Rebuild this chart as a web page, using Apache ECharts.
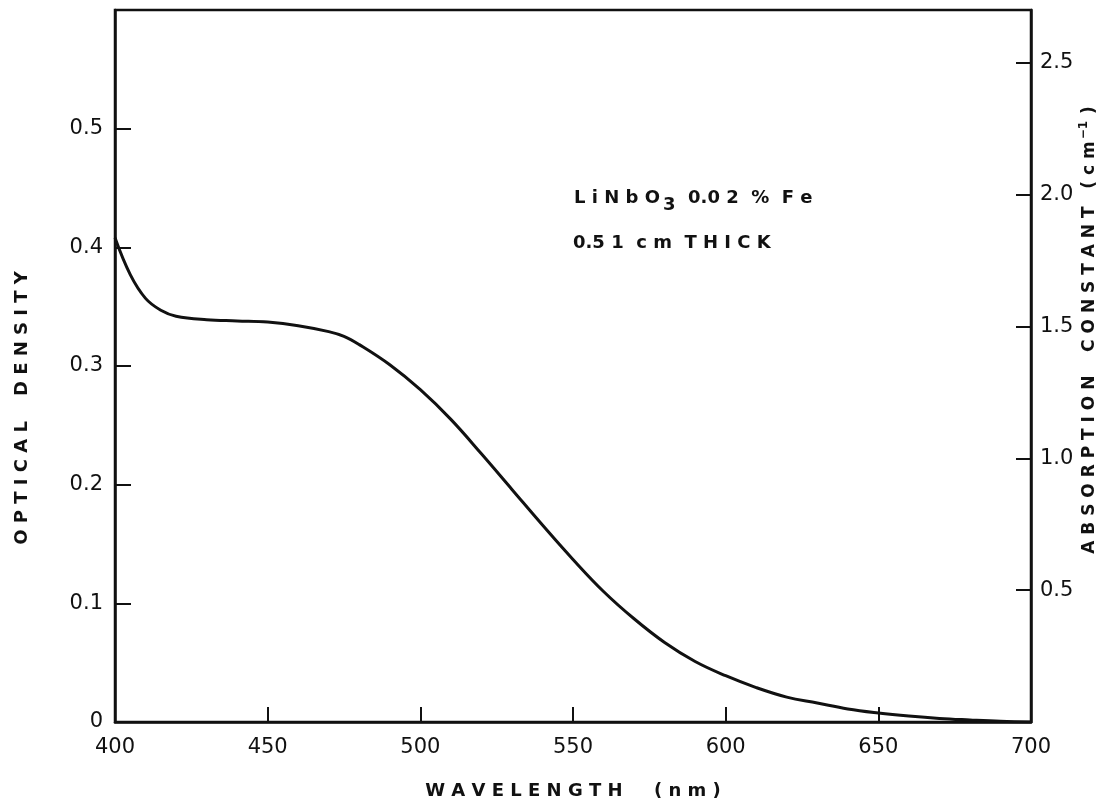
<!DOCTYPE html>
<html>
<head>
<meta charset="utf-8">
<script src="https://cdn.jsdelivr.net/npm/echarts@6/dist/echarts.min.js"></script>
<style>
    html, body {margin: 0; padding: 0; background: #fff;}
    #app {width: 1108px; height: 805px;}
</style>
</head>
<body>
<div id="app"></div>
<script>
//wavelength (nm) and optical density
var wavelength = [400, 405, 410, 415, 420, 430, 440, 450, 460, 470, 475, 480, 490, 500, 510, 520, 530, 540, 550, 560, 570, 580, 590, 600, 610, 620, 630, 640, 650, 660, 670, 680, 690, 700]
var density = [0.408, 0.377, 0.357, 0.347, 0.342, 0.339, 0.338, 0.337, 0.334, 0.329, 0.325, 0.318, 0.301, 0.280, 0.255, 0.226, 0.196, 0.166, 0.137, 0.110, 0.087, 0.067, 0.051, 0.039, 0.029, 0.021, 0.016, 0.011, 0.0076, 0.005, 0.003, 0.0017, 0.0006, 0]

//axis ranges
var xRange = [400, 700, 50]
var odRange = [0, 0.6, 0.1]
var absRange = [0, 2.7, 0.5]

var font = 'DejaVu Sans'
var ink = '#111'

var chart = echarts.init(document.getElementById('app'))

var points = []
for (var i = 0; i < wavelength.length; i++) {
    points.push([wavelength[i], density[i]])
}

chart.setOption({
    backgroundColor: '#fff',
    animation: false,
    grid: {
        left: 115,
        right: 77,
        top: 10,
        bottom: 83,
        show: true,
        borderColor: ink,
        borderWidth: 2.5
    },
    xAxis: {
        type: 'value',
        min: xRange[0],
        max: xRange[1],
        interval: xRange[2],
        name: 'W A V E L E N G T H     ( n m )',
        nameLocation: 'middle',
        nameGap: 60,
        nameTextStyle: {fontFamily: font, fontSize: 18, fontWeight: 'bold', color: ink},
        axisLine: {lineStyle: {color: ink, width: 2.5}},
        axisTick: {inside: true, length: 15, lineStyle: {color: ink, width: 2}},
        axisLabel: {margin: 15, fontFamily: font, fontSize: 21, color: ink},
        splitLine: {show: false}
    },
    yAxis: [
        {
            type: 'value',
            min: odRange[0],
            max: odRange[1],
            interval: odRange[2],
            axisLine: {show: true, lineStyle: {color: ink, width: 2.5}},
            axisTick: {inside: true, length: 16, lineStyle: {color: ink, width: 2}},
            axisLabel: {
                margin: 12,
                fontFamily: font,
                fontSize: 21,
                color: ink,
                formatter: (v) => {
                    if (v === 0) return '0'
                    if (v > 0.55) return ''
                    return v.toFixed(1)
                }
            },
            splitLine: {show: false}
        },
        {
            type: 'value',
            position: 'right',
            min: absRange[0],
            max: absRange[1],
            interval: absRange[2],
            axisLine: {show: true, lineStyle: {color: ink, width: 2.5}},
            axisTick: {inside: true, length: 15, lineStyle: {color: ink, width: 2}},
            axisLabel: {
                margin: 9,
                fontFamily: font,
                fontSize: 21,
                color: ink,
                formatter: (v) => {
                    if (v === 0 || v > 2.6) return ''
                    return v.toFixed(1)
                }
            },
            splitLine: {show: false}
        }
    ],
    series: [
        {
            type: 'line',
            yAxisIndex: 0,
            data: points,
            smooth: 0.4,
            showSymbol: false,
            lineStyle: {color: ink, width: 3}
        }
    ],
    graphic: [
        //left axis name
        {
            type: 'text',
            x: 22,
            y: 408,
            rotation: Math.PI / 2,
            style: {
                text: 'O P T I C A L    D E N S I T Y',
                font: `bold 18px "${font}"`,
                fill: ink,
                align: 'center',
                verticalAlign: 'middle'
            }
        },
        //right axis name
        {
            type: 'text',
            x: 1090,
            y: 330,
            rotation: Math.PI / 2,
            style: {
                text: '{a|A B S O R P T I O N    C O N S T A N T   ( c m}{s|−1}{a| )}',
                fill: ink,
                align: 'center',
                verticalAlign: 'middle',
                rich: {
                    a: {fontFamily: font, fontSize: 17, fontWeight: 'bold', fill: ink},
                    s: {fontFamily: font, fontSize: 12, fontWeight: 'bold', fill: ink, padding: [0, 1, 12, 2]}
                }
            }
        },
        //sample note
        {
            type: 'text',
            x: 574,
            y: 198,
            style: {
                text: '{a|L i N b O}{s|3}{a|  0.0 2  %  F e}',
                align: 'left',
                verticalAlign: 'middle',
                rich: {
                    a: {fontFamily: font, fontSize: 18, fontWeight: 'bold', fill: ink},
                    s: {fontFamily: font, fontSize: 18, fontWeight: 'bold', fill: ink, padding: [14, 0, 0, 3]}
                }
            }
        },
        {
            type: 'text',
            x: 573,
            y: 243,
            style: {
                text: '0.5 1  c m  T H I C K',
                font: `bold 18px "${font}"`,
                fill: ink,
                align: 'left',
                verticalAlign: 'middle'
            }
        }
    ]
})
</script>
</body>
</html>
